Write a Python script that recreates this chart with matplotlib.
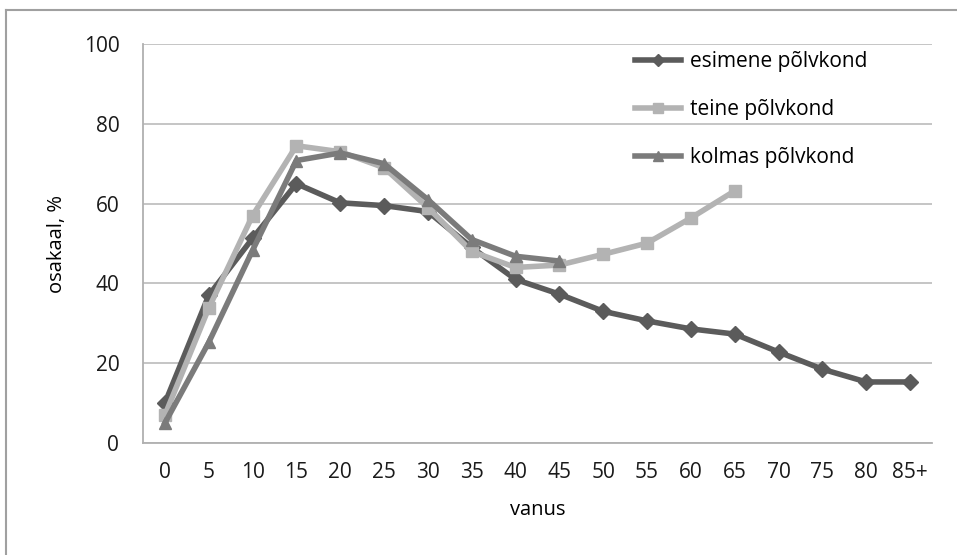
import matplotlib.pyplot as plt
from matplotlib.lines import Line2D

plt.rcParams['font.family'] = ['Open Sans', 'DejaVu Sans']

# age groups and shares (%) per generation
ages = ['0', '5', '10', '15', '20', '25', '30', '35', '40', '45',
        '50', '55', '60', '65', '70', '75', '80', '85+']
esimene = [10, 37, 51.3, 65, 60.2, 59.5, 58, 49, 41, 37.3,
           33, 30.6, 28.6, 27.3, 22.8, 18.5, 15.3, 15.3]
teine = [7, 33.8, 57, 74.5, 73, 69, 59, 48, 44, 44.6,
         47.3, 50.1, 56.4, 63.2]
kolmas = [5, 25.2, 48.3, 70.8, 72.7, 70, 61, 51, 46.8, 45.6]

fig = plt.figure(figsize=(9.57, 5.55), dpi=100)
ax = fig.add_axes([0.1494, 0.2018, 0.9739 - 0.1494, 0.9207 - 0.2018])

x = list(range(len(ages)))
ax.plot(x[:len(esimene)], esimene, color='#5b5b5b', lw=4, marker='D', ms=8,
        label='esimene põlvkond', zorder=3)
ax.plot(x[:len(teine)], teine, color='#b3b3b3', lw=4, marker='s', ms=9,
        label='teine põlvkond', zorder=4)
ax.plot(x[:len(kolmas)], kolmas, color='#7b7b7b', lw=4, marker='^', ms=9,
        label='kolmas põlvkond', zorder=5)

ax.set_xlim(-0.5, len(ages) - 0.5)
ax.set_ylim(0, 100)
ax.set_yticks([0, 20, 40, 60, 80, 100])
ax.set_xticks(x)
ax.set_xticklabels(ages)
ax.tick_params(length=0, labelsize=15, colors='#1a1a1a')
ax.tick_params(axis='y', pad=17)
ax.tick_params(axis='x', pad=14)

ax.grid(axis='y', color='#c0c0c0', lw=1.3)
ax.set_axisbelow(True)
for s in ['top', 'right']:
    ax.spines[s].set_visible(False)
for s in ['left', 'bottom']:
    ax.spines[s].set_color('#b0b0b0')
    ax.spines[s].set_linewidth(1.3)

ax.set_xlabel('vanus', fontsize=14.5, labelpad=12)
ax.set_ylabel('osakaal, %', fontsize=14.5, labelpad=12)

ax.legend(loc='upper left', bbox_to_anchor=(0.6, 1.03), frameon=False,
          fontsize=15, labelspacing=1.3, handlelength=2.2, handletextpad=0.45,
          markerscale=0.8)

# chart area border (top and left visible)
fig.add_artist(Line2D([6 / 957, 6 / 957], [0, 1 - 10 / 555], color='#a0a0a0', lw=1.5))
fig.add_artist(Line2D([6 / 957, 1], [1 - 10 / 555, 1 - 10 / 555], color='#a0a0a0', lw=1.5))

fig.savefig('out.png', dpi=100)
